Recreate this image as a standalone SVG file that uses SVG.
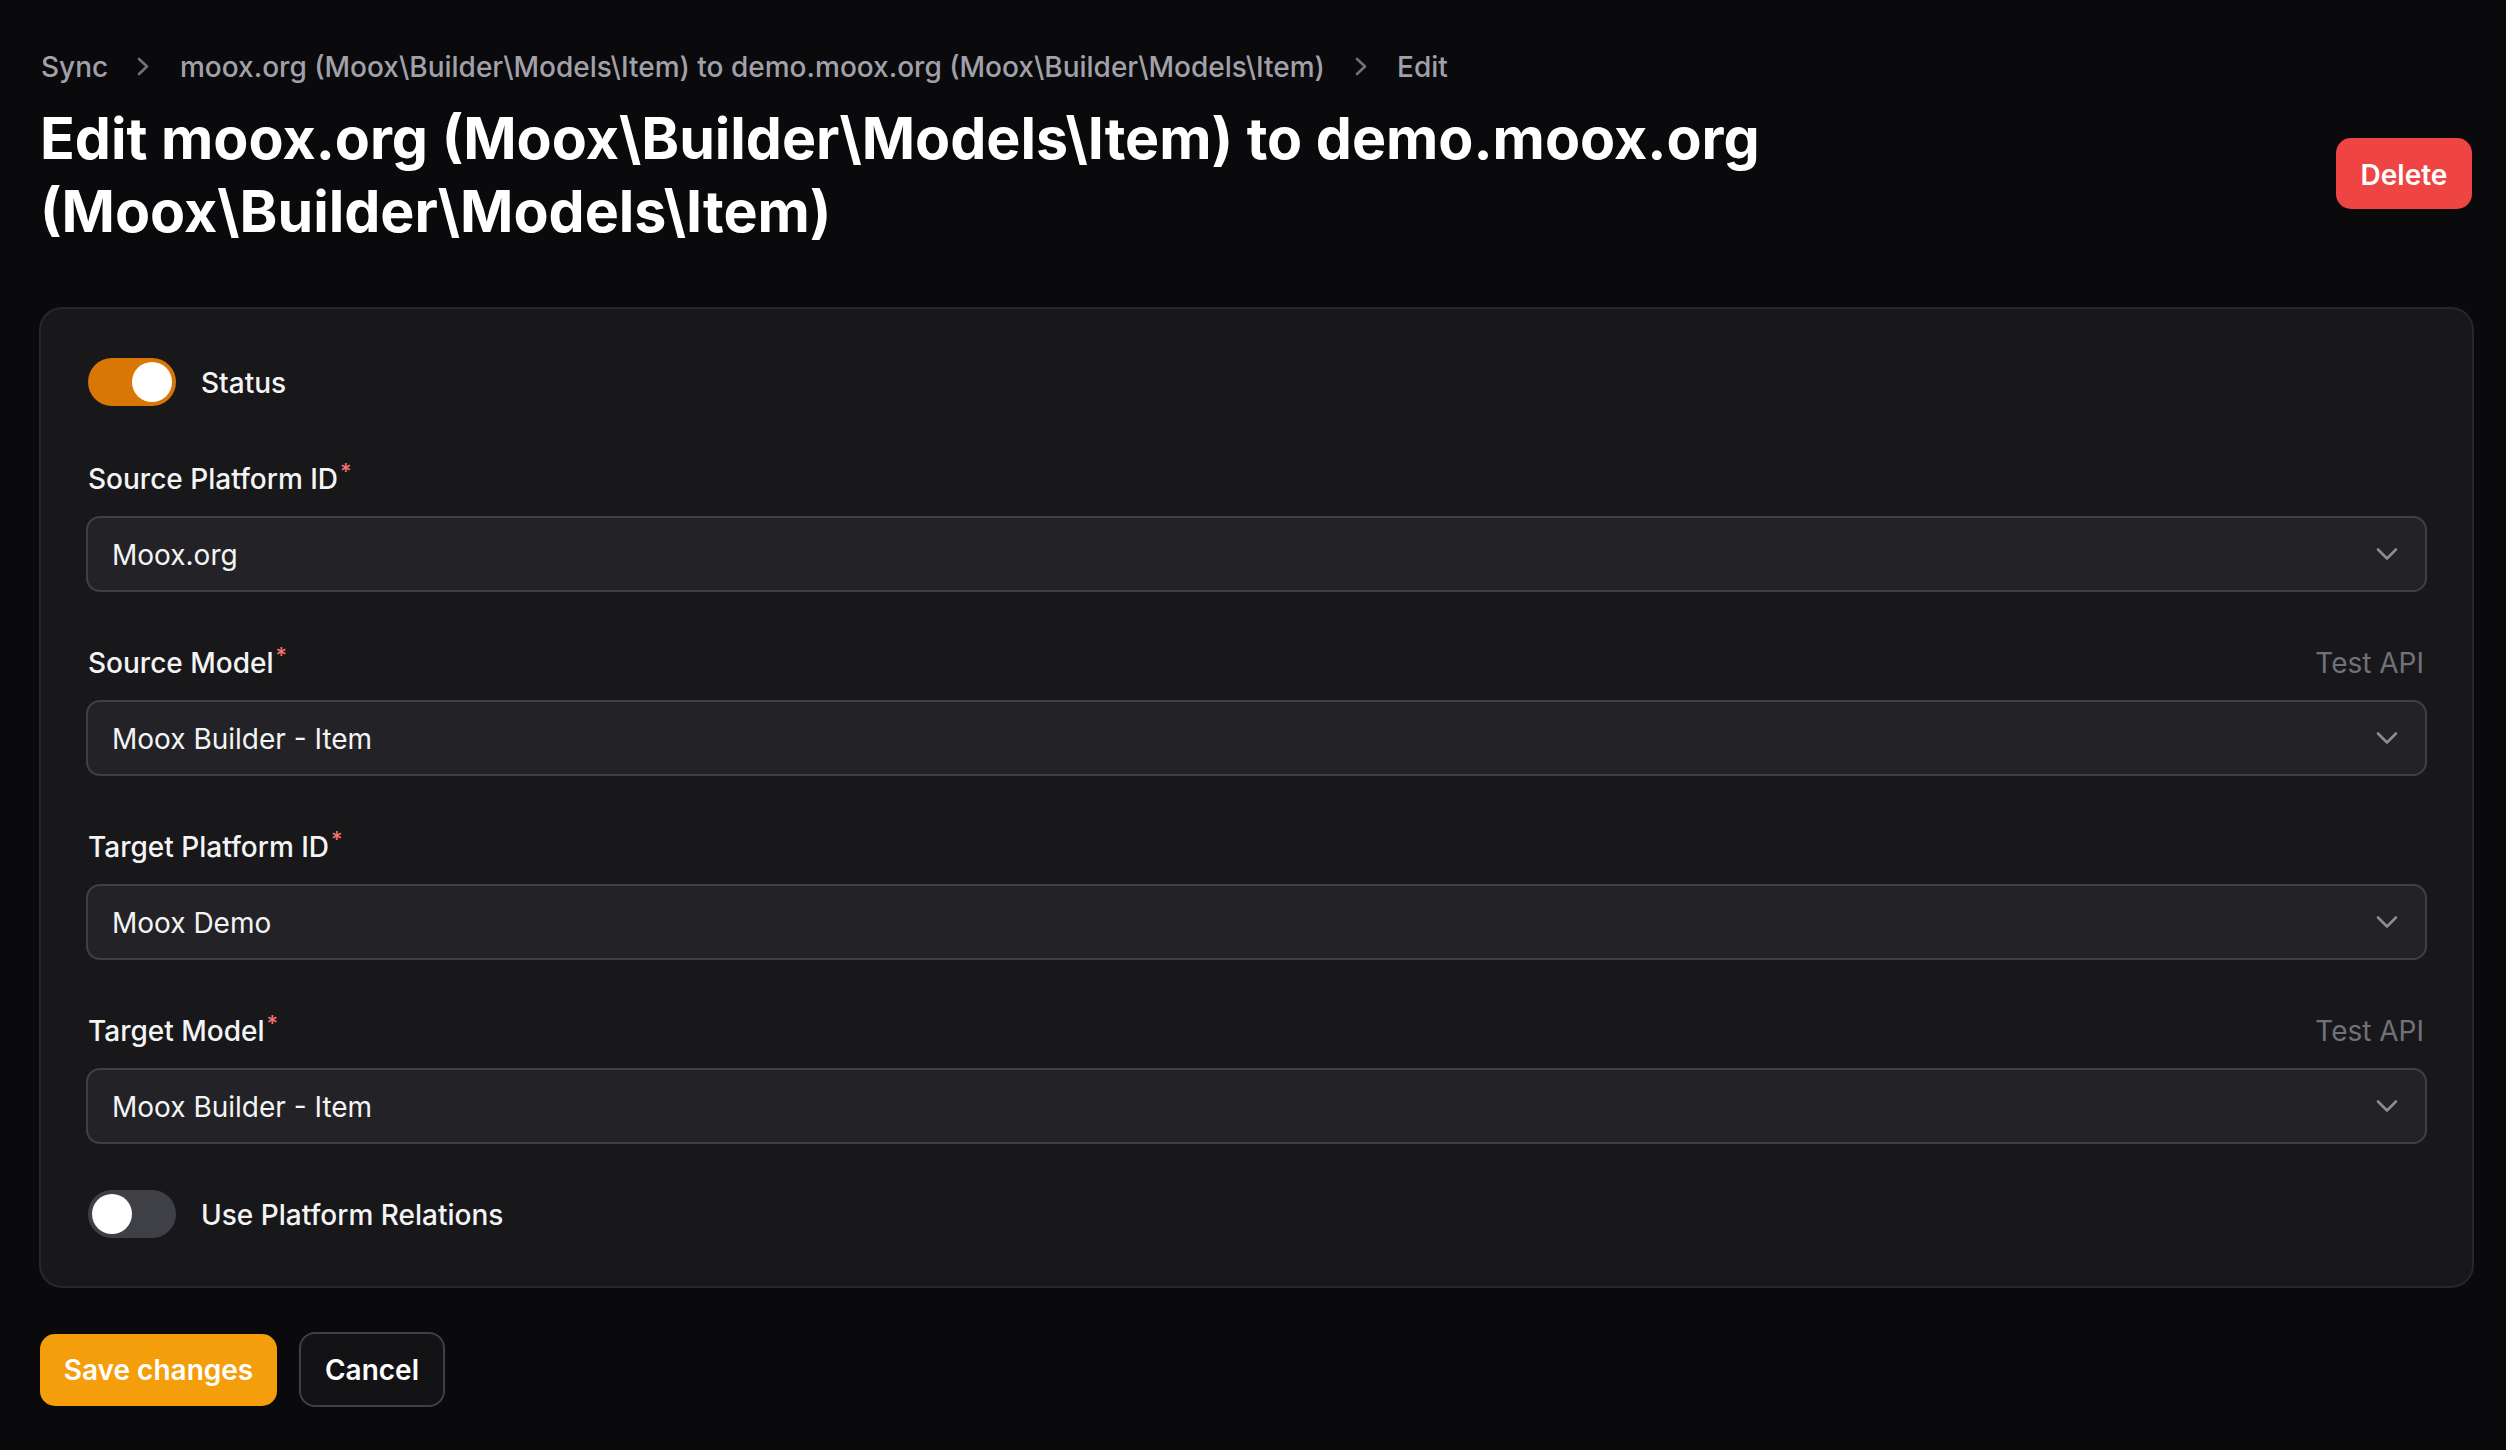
<svg xmlns="http://www.w3.org/2000/svg" width="2506" height="1450" viewBox="0 0 2506 1450">
<defs>
<style>
text{font-family:Inter,"Noto Sans","Liberation Sans",sans-serif;}
.crumb{font-size:28px;font-weight:500;fill:#a1a1aa;}
.crumbsep{fill:none;stroke:#71717a;stroke-width:2.6;stroke-linecap:round;stroke-linejoin:round;}
.title{font-size:57.3px;font-weight:700;fill:#ffffff;}
.label{font-size:28px;font-weight:500;fill:#f4f4f5;}
.req{font-size:22px;font-weight:500;fill:#f87171;}
.value{font-size:28px;font-weight:400;fill:#f4f4f5;}
.hint{font-size:28px;font-weight:400;fill:#71717a;}
.input{fill:#232327;stroke:#3f3f46;stroke-width:2;}
.chev{fill:none;stroke:#8b8b94;stroke-width:2.6;stroke-linecap:round;stroke-linejoin:round;}
.btntext{font-size:28px;font-weight:600;fill:#ffffff;}
</style>
</defs>
<rect x="0" y="0" width="2506" height="1450" fill="#0a0a0c"/>

<g id="breadcrumb">
<text class="crumb" x="41" y="76.5">Sync</text>
<path class="crumbsep" d="M139 59 L147 66.5 L139 74"/>
<text class="crumb" x="180" y="76.5">moox.org (Moox\Builder\Models\Item) to demo.moox.org (Moox\Builder\Models\Item)</text>
<path class="crumbsep" d="M1357 59 L1365 66.5 L1357 74"/>
<text class="crumb" x="1397" y="76.5">Edit</text>
</g>

<g id="title">
<text class="title" x="40" y="159">Edit moox.org (Moox\Builder\Models\Item) to demo.moox.org</text>
<text class="title" x="40" y="232">(Moox\Builder\Models\Item)</text>
</g>

<g id="delete-button">
<rect x="2336" y="138" width="136" height="71" rx="15" fill="#ef4444"/>
<text class="btntext" x="2404" y="184.5" text-anchor="middle">Delete</text>
</g>

<g id="form-card">
<rect x="40" y="308" width="2433" height="979" rx="22" fill="#18181b" stroke="#27272a" stroke-width="2"/>
</g>

<g id="status-toggle">
<rect x="88" y="358" width="88" height="48" rx="24" fill="#d97706"/>
<circle cx="152" cy="382" r="20" fill="#ffffff"/>
<text class="label" x="201" y="393">Status</text>
</g>

<g id="source-platform">
<text class="label" x="88" y="489">Source Platform ID<tspan class="req" dx="2" dy="-10">*</tspan></text>
<rect class="input" x="87" y="517" width="2339" height="74" rx="13"/>
<text class="value" x="112" y="564.5">Moox.org</text>
<path class="chev" d="M2378 549.5 L2387 558.5 L2396 549.5"/>
</g>

<g id="source-model">
<text class="label" x="88" y="673">Source Model<tspan class="req" dx="2" dy="-10">*</tspan></text>
<text class="hint" x="2424" y="673" text-anchor="end">Test API</text>
<rect class="input" x="87" y="701" width="2339" height="74" rx="13"/>
<text class="value" x="112" y="748.5">Moox Builder - Item</text>
<path class="chev" d="M2378 733.5 L2387 742.5 L2396 733.5"/>
</g>

<g id="target-platform">
<text class="label" x="88" y="857">Target Platform ID<tspan class="req" dx="2" dy="-10">*</tspan></text>
<rect class="input" x="87" y="885" width="2339" height="74" rx="13"/>
<text class="value" x="112" y="932.5">Moox Demo</text>
<path class="chev" d="M2378 917.5 L2387 926.5 L2396 917.5"/>
</g>

<g id="target-model">
<text class="label" x="88" y="1041">Target Model<tspan class="req" dx="2" dy="-10">*</tspan></text>
<text class="hint" x="2424" y="1041" text-anchor="end">Test API</text>
<rect class="input" x="87" y="1069" width="2339" height="74" rx="13"/>
<text class="value" x="112" y="1116.5">Moox Builder - Item</text>
<path class="chev" d="M2378 1101.5 L2387 1110.5 L2396 1101.5"/>
</g>

<g id="platform-relations-toggle">
<rect x="88" y="1190" width="88" height="48" rx="24" fill="#3f3f46"/>
<circle cx="112" cy="1214" r="20" fill="#ffffff"/>
<text class="label" x="201" y="1225">Use Platform Relations</text>
</g>

<g id="save-button">
<rect x="40" y="1334" width="237" height="72" rx="15" fill="#f59e0b"/>
<text class="btntext" x="158.5" y="1380" text-anchor="middle">Save changes</text>
</g>

<g id="cancel-button">
<rect x="300" y="1333" width="144" height="73" rx="15" fill="#131316" stroke="#3f3f46" stroke-width="2"/>
<text class="btntext" x="372" y="1380" text-anchor="middle">Cancel</text>
</g>

<g id="connectors"/>
</svg>
